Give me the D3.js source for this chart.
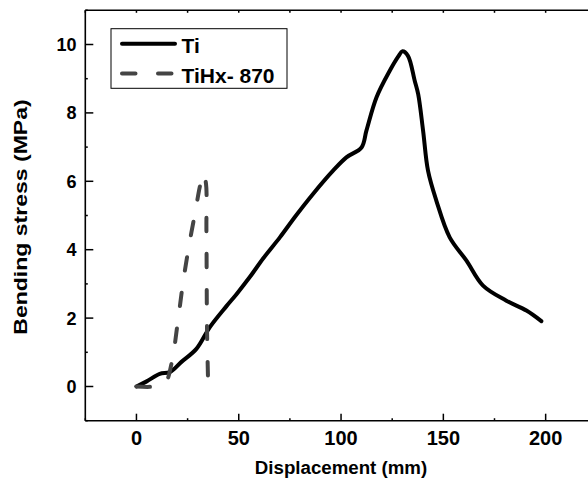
<!DOCTYPE html>
<html>
<head>
<meta charset="utf-8">
<script src="https://cdn.jsdelivr.net/npm/d3@7"></script>
<style>
  body { margin: 0; background: #fff; }
  svg text { font-family: 'Liberation Sans', Arial, sans-serif; font-weight: bold; fill: #000; }
</style>
</head>
<body>
<div id="chart"></div>
<script>
// 数据
var tiX = [0, 5, 11.4, 16.3, 22, 29.3, 35.8, 44, 48.9, 55.4, 62, 70.1, 78, 86.3, 96.1, 102.6, 110, 112.4, 117.3, 123.8, 128, 130, 132.7, 136, 137.7, 140.1, 142.5, 146.6, 153.1, 161.3, 169.4, 180.8, 190.6, 197.9]
var tiY = [0, 0.15, 0.37, 0.42, 0.72, 1.10, 1.73, 2.35, 2.7, 3.2, 3.75, 4.36, 5.0, 5.63, 6.31, 6.70, 6.99, 7.48, 8.45, 9.23, 9.65, 9.80, 9.67, 8.94, 8.55, 7.48, 6.31, 5.43, 4.36, 3.68, 2.95, 2.51, 2.22, 1.91]
var hxX = [0, 9, 14, 17.1, 20.3, 22.8, 25.7, 29, 30.9, 32.6, 33.9, 34.2, 34.5, 35]
var hxY = [0, 0, 0.1, 0.66, 1.93, 3.05, 4.12, 5.19, 5.82, 6.23, 5.97, 4.56, 1.64, 0.18]
var xTicks = [0, 50, 100, 150, 200]
var yTicks = [0, 2, 4, 6, 8, 10]
var seriesNames = ['Ti', 'TiHx- 870']

var width = 588
var height = 484
var svg = d3.select('#chart').append('svg')
  .attr('width', width)
  .attr('height', height)

// 坐标系 (右边超出画布)
var x = d3.scaleLinear().domain([-25, 225]).range([85.3, 596.8])
var y = d3.scaleLinear().domain([-1, 11]).range([420.7, 10.3])

var axisColor = '#000'
// 边框
svg.append('line').attr('x1', x(-25)).attr('x2', x(225)).attr('y1', y(-1)).attr('y2', y(-1))
  .attr('stroke', axisColor).attr('stroke-width', 1.6)
svg.append('line').attr('x1', x(-25)).attr('x2', x(225)).attr('y1', y(11)).attr('y2', y(11))
  .attr('stroke', axisColor).attr('stroke-width', 1.6)
svg.append('line').attr('x1', x(-25)).attr('x2', x(-25)).attr('y1', y(-1)).attr('y2', y(11))
  .attr('stroke', axisColor).attr('stroke-width', 1.6)

// x 刻度
var xMinor = d3.range(-25, 226, 25)
svg.selectAll('line.xtick')
  .data(xMinor)
  .enter()
  .append('line')
  .attr('class', 'xtick')
  .attr('x1', function (d) { return x(d) })
  .attr('x2', function (d) { return x(d) })
  .attr('y1', y(-1))
  .attr('y2', function (d) { return y(-1) - (xTicks.indexOf(d) >= 0 ? 7 : 2.5) })
  .attr('stroke', axisColor).attr('stroke-width', 1.5)
svg.selectAll('line.xtop')
  .data(xMinor)
  .enter()
  .append('line')
  .attr('class', 'xtop')
  .attr('x1', function (d) { return x(d) })
  .attr('x2', function (d) { return x(d) })
  .attr('y1', y(11))
  .attr('y2', y(11) + 2.5)
  .attr('stroke', axisColor).attr('stroke-width', 1.5)
svg.selectAll('text.xlab')
  .data(xTicks)
  .enter()
  .append('text')
  .attr('class', 'xlab')
  .attr('text-anchor', 'middle')
  .attr('font-size', '20px')
  .attr('x', function (d) { return x(d) })
  .attr('y', 444.5)
  .text(function (d) { return d })

// y 刻度
var yMinor = d3.range(-1, 11.5, 1)
svg.selectAll('line.ytick')
  .data(yMinor)
  .enter()
  .append('line')
  .attr('class', 'ytick')
  .attr('x1', x(-25))
  .attr('x2', function (d) { return x(-25) + (yTicks.indexOf(d) >= 0 ? 8 : 2.5) })
  .attr('y1', function (d) { return y(d) })
  .attr('y2', function (d) { return y(d) })
  .attr('stroke', axisColor).attr('stroke-width', 1.5)
svg.selectAll('text.ylab')
  .data(yTicks)
  .enter()
  .append('text')
  .attr('class', 'ylab')
  .attr('text-anchor', 'end')
  .attr('font-size', '18px')
  .attr('x', 76.5)
  .attr('y', function (d) { return y(d) + 6.5 })
  .text(function (d) { return d })

// 轴标题
svg.append('text')
  .attr('text-anchor', 'middle')
  .attr('font-size', '18.7px')
  .attr('x', 341)
  .attr('y', 474)
  .text('Displacement (mm)')
svg.append('text')
  .attr('text-anchor', 'middle')
  .attr('font-size', '18px')
  .attr('transform', 'translate(27,217) rotate(-90) scale(1.28,1)')
  .text('Bending stress (MPa)')

// 曲线
var line = d3.line()
  .x(function (d) { return x(d[0]) })
  .y(function (d) { return y(d[1]) })
  .curve(d3.curveCatmullRom.alpha(0.5))
var tiData = tiX.map(function (v, i) { return [v, tiY[i]] })
var hxData = hxX.map(function (v, i) { return [v, hxY[i]] })

svg.append('path')
  .datum(tiData)
  .attr('d', line)
  .attr('fill', 'none')
  .attr('stroke', '#000')
  .attr('stroke-width', 4)
  .attr('stroke-linejoin', 'round')
  .attr('stroke-linecap', 'round')
svg.append('path')
  .datum(hxData)
  .attr('d', line)
  .attr('fill', 'none')
  .attr('stroke', '#444')
  .attr('stroke-width', 4)
  .attr('stroke-dasharray', '13.5,22.5')
  .attr('stroke-linejoin', 'round')
  .attr('stroke-linecap', 'round')

// 图例
var legend = svg.append('g')
legend.append('rect')
  .attr('x', 111).attr('y', 28.7)
  .attr('width', 176).attr('height', 59.6)
  .attr('fill', '#fff').attr('stroke', '#000').attr('stroke-width', 1)
var legendRows = [
  { name: seriesNames[0], color: '#000', dash: null, y: 43.7 },
  { name: seriesNames[1], color: '#444', dash: '13.5,22.5', y: 73.5 }
]
legend.selectAll('line.lg')
  .data(legendRows)
  .enter()
  .append('line')
  .attr('class', 'lg')
  .attr('x1', 122).attr('x2', 175)
  .attr('y1', function (d) { return d.y })
  .attr('y2', function (d) { return d.y })
  .attr('stroke', function (d) { return d.color })
  .attr('stroke-width', 4)
  .attr('stroke-linecap', 'round')
  .attr('stroke-dasharray', function (d) { return d.dash })
legend.selectAll('text.lg')
  .data(legendRows)
  .enter()
  .append('text')
  .attr('class', 'lg')
  .attr('font-size', '21px')
  .attr('x', 181.5)
  .attr('y', function (d) { return d.y + 9.5 })
  .text(function (d) { return d.name })
</script>
</body>
</html>
